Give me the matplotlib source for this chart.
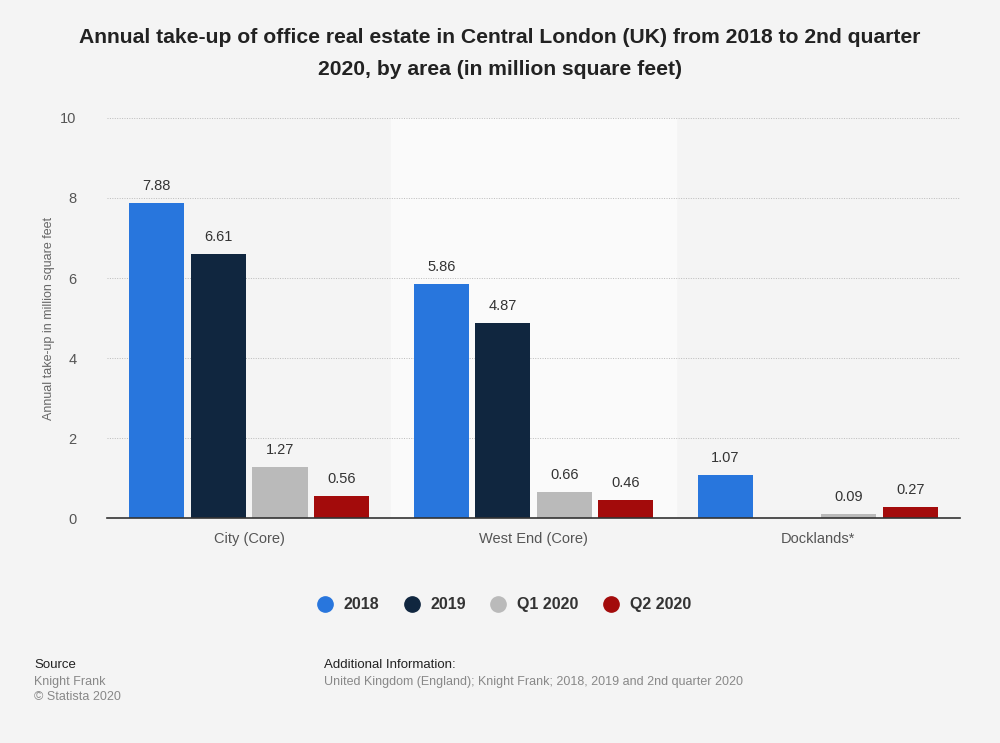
import numpy as np
import matplotlib.pyplot as plt
from matplotlib.lines import Line2D

areas = ["City (Core)", "West End (Core)", "Docklands*"]
series = ["2018", "2019", "Q1 2020", "Q2 2020"]
v2018 = [7.88, 5.86, 1.07]
v2019 = [6.61, 4.87, None]
vq1 = [1.27, 0.66, 0.09]
vq2 = [0.56, 0.46, 0.27]
colors = ["#2876dd", "#10263f", "#bababa", "#a30b0b"]

values = [v2018, v2019, vq1, vq2]

plt.rcParams["font.family"] = ["Liberation Sans", "DejaVu Sans"]

fig = plt.figure(figsize=(10, 7.43), dpi=100)
fig.patch.set_facecolor("#f4f4f4")
ax = fig.add_axes([0.107, 0.3028, 0.853, 0.5384])
ax.set_facecolor("#f4f4f4")

x = np.arange(len(areas))
step = 0.2165
width = 0.194
ax.axvspan(0.5, 1.5, color="#fafafa", zorder=0)

for i, (name, vals, c) in enumerate(zip(series, values, colors)):
    off = (i - 1.5) * step
    for j, v in enumerate(vals):
        if v is None:
            continue
        ax.bar(x[j] + off, v, width, color=c, zorder=3)
        ax.text(x[j] + off, v + 0.25, f"{v:.2f}", ha="center", va="bottom",
                fontsize=10.5, color="#333333", zorder=4)

ax.set_xlim(-0.5, 2.5)
ax.set_ylim(0, 10)
ax.set_yticks([0, 2, 4, 6, 8, 10])
ax.set_xticks(x)
ax.set_xticklabels(areas)
ax.tick_params(axis="both", length=0, labelsize=10.5, colors="#555555")
ax.tick_params(axis="x", pad=10)
ax.tick_params(axis="y", pad=22)
ax.grid(axis="y", color="#bbbbbb", linestyle=(0, (1, 1.5)), linewidth=0.7, zorder=1)
for s in ["top", "right", "left"]:
    ax.spines[s].set_visible(False)
ax.spines["bottom"].set_color("#333333")
ax.spines["bottom"].set_linewidth(1.2)
ax.spines["bottom"].set_zorder(5)
ax.set_ylabel("Annual take-up in million square feet", fontsize=9, color="#666666", labelpad=4)

fig.text(0.5, 0.962, "Annual take-up of office real estate in Central London (UK) from 2018 to 2nd quarter\n2020, by area (in million square feet)",
         ha="center", va="top", fontsize=15.2, fontweight="bold", color="#222222", linespacing=1.85)

handles = [Line2D([0], [0], marker="o", linestyle="", markersize=11, markerfacecolor=c,
                  markeredgecolor=c) for c in colors]
leg = fig.legend(handles, series, loc="center", bbox_to_anchor=(0.5, 0.186), ncol=4, frameon=False,
                 handletextpad=0.2, columnspacing=1.0, prop={"weight": "bold", "size": 11.5})
for t in leg.get_texts():
    t.set_color("#333333")

fig.text(0.034, 0.105, "Source", fontsize=9.5, color="#222222", va="center")
fig.text(0.034, 0.082, "Knight Frank", fontsize=9, color="#888888", va="center")
fig.text(0.034, 0.062, "\u00a9 Statista 2020", fontsize=9, color="#888888", va="center")
fig.text(0.324, 0.105, "Additional Information:", fontsize=9.5, color="#222222", va="center")
fig.text(0.324, 0.082, "United Kingdom (England); Knight Frank; 2018, 2019 and 2nd quarter 2020",
         fontsize=9, color="#888888", va="center")

fig.savefig("out.png", dpi=100, facecolor=fig.get_facecolor())
